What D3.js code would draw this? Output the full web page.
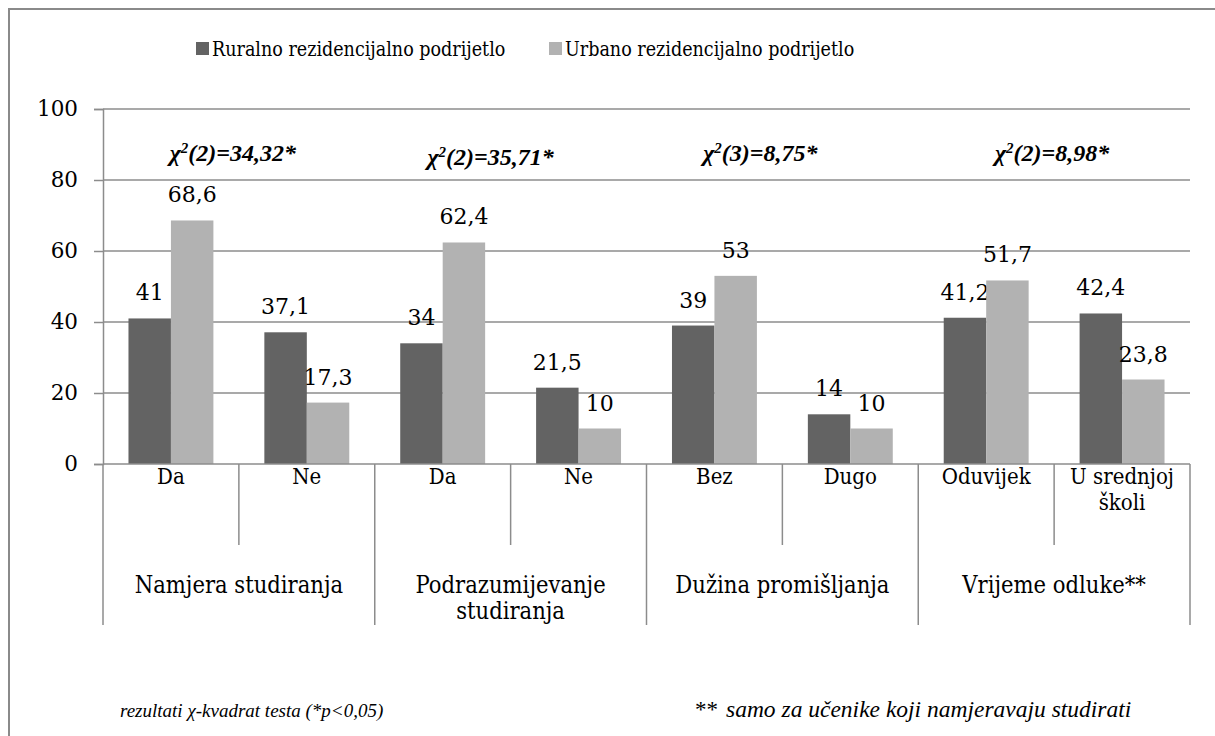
<!DOCTYPE html>
<html>
<head>
<meta charset="utf-8">
<script src="https://cdn.jsdelivr.net/npm/d3@7"></script>
<style>
  body { margin: 0; background: #fff; }
  svg { display: block; }
</style>
</head>
<body>
<div id="visualization"></div>
<script>
// Data
const subLabels = ["Da", "Ne", "Da", "Ne", "Bez", "Dugo", "Oduvijek", "U srednjoj školi"];
const groupLabels = ["Namjera studiranja", "Podrazumijevanje studiranja", "Dužina promišljanja", "Vrijeme odluke**"];
const ruralValues = [41, 37.1, 34, 21.5, 39, 14, 41.2, 42.4];
const urbanValues = [68.6, 17.3, 62.4, 10, 53, 10, 51.7, 23.8];
const seriesNames = ["Ruralno rezidencijalno podrijetlo", "Urbano rezidencijalno podrijetlo"];
const chiDf = ["2", "2", "3", "2"];
const chiValues = ["34,32*", "35,71*", "8,75*", "8,98*"];
const yTicks = [0, 20, 40, 60, 80, 100];

const colors = ["#636363", "#b2b2b2"];
const condFont = "'DejaVu Serif Condensed', 'DejaVu Serif', serif";
const numFont = "'DejaVu Serif', serif";
const italicFont = "'Liberation Serif', 'Times New Roman', serif";

const width = 1215, height = 736;
const margin = { left: 103, right: 25, top: 109, bottom: 272 };
const plotW = width - margin.left - margin.right;
const plotH = height - margin.top - margin.bottom;

const svg = d3.select("#visualization")
    .append("svg")
    .attr("width", width)
    .attr("height", height);

svg.append("rect").attr("width", width).attr("height", height).attr("fill", "#fff");

// frame (only top and left visible in the crop)
svg.append("path")
    .attr("d", `M9,${height} V9 H${width}`)
    .attr("fill", "none")
    .attr("stroke", "#8a8a8a")
    .attr("stroke-width", 2);

const idx = d3.range(subLabels.length);
const x = d3.scaleBand().domain(idx).range([margin.left, margin.left + plotW]).padding(0);
const xInner = d3.scaleBand().domain([0, 1]).range([0, x.bandwidth()]).paddingInner(0).paddingOuter(0.6);
const y = d3.scaleLinear().domain([0, 100]).range([margin.top + plotH, margin.top]);

// gridlines
svg.append("g")
    .selectAll("line")
    .data(yTicks.filter(d => d > 0))
    .enter()
    .append("line")
    .attr("x1", margin.left)
    .attr("x2", margin.left + plotW)
    .attr("y1", d => y(d))
    .attr("y2", d => y(d))
    .attr("stroke", "#8c8c8c")
    .attr("stroke-width", 1.5);

// y axis
const yAxis = svg.append("g")
    .attr("transform", `translate(${margin.left},0)`)
    .call(d3.axisLeft(y).tickValues(yTicks).tickSize(9).tickPadding(16));
yAxis.select(".domain").attr("stroke", "#8c8c8c").attr("stroke-width", 1.5);
yAxis.selectAll(".tick line").attr("stroke", "#8c8c8c").attr("stroke-width", 1.5);
yAxis.selectAll(".tick text")
    .attr("font-family", numFont)
    .attr("font-size", 21.5)
    .attr("fill", "#000");

// bars
const series = [ruralValues, urbanValues];
series.forEach((vals, s) => {
    svg.append("g")
        .selectAll("rect")
        .data(vals)
        .enter()
        .append("rect")
        .attr("x", (d, i) => x(i) + xInner(s))
        .attr("y", d => y(d))
        .attr("width", xInner.bandwidth())
        .attr("height", d => y(0) - y(d))
        .attr("fill", colors[s]);

    svg.append("g")
        .selectAll("text")
        .data(vals)
        .enter()
        .append("text")
        .attr("x", (d, i) => x(i) + xInner(s) + xInner.bandwidth() / 2)
        .attr("y", d => y(d) - 18)
        .attr("text-anchor", "middle")
        .attr("font-family", numFont)
        .attr("font-size", 22)
        .attr("fill", "#000")
        .text(d => String(d).replace(".", ","));
});

// x axis line
const y0 = y(0);
svg.append("line")
    .attr("x1", margin.left).attr("x2", margin.left + plotW)
    .attr("y1", y0).attr("y2", y0)
    .attr("stroke", "#8c8c8c").attr("stroke-width", 1.5);

// separators
const boundaries = d3.range(subLabels.length + 1);
svg.append("g")
    .selectAll("line")
    .data(boundaries)
    .enter()
    .append("line")
    .attr("x1", d => d === subLabels.length ? margin.left + plotW : x(d))
    .attr("x2", d => d === subLabels.length ? margin.left + plotW : x(d))
    .attr("y1", y0)
    .attr("y2", d => d % 2 === 0 ? 625 : 545)
    .attr("stroke", "#8c8c8c")
    .attr("stroke-width", 1.5);

// wrap helper
function wrapText(sel, maxW, lineH) {
    sel.each(function() {
        const t = d3.select(this);
        const words = t.text().split(" ");
        const xPos = t.attr("x");
        t.text(null);
        let line = [];
        let tspan = t.append("tspan").attr("x", xPos).attr("dy", 0);
        words.forEach(w => {
            line.push(w);
            tspan.text(line.join(" "));
            if (tspan.node().getComputedTextLength() > maxW && line.length > 1) {
                line.pop();
                tspan.text(line.join(" "));
                line = [w];
                tspan = t.append("tspan").attr("x", xPos).attr("dy", lineH).text(w);
            }
        });
    });
}

svg.append("g")
    .selectAll("text")
    .data(subLabels)
    .enter()
    .append("text")
    .attr("x", (d, i) => x(i) + x.bandwidth() / 2)
    .attr("y", 484)
    .attr("text-anchor", "middle")
    .attr("font-family", condFont)
    .attr("font-size", 22)
    .attr("fill", "#000")
    .text(d => d)
    .call(wrapText, x.bandwidth() - 8, 26);

svg.append("g")
    .selectAll("text")
    .data(groupLabels)
    .enter()
    .append("text")
    .attr("x", (d, i) => x(i * 2) + x.bandwidth())
    .attr("y", 593)
    .attr("text-anchor", "middle")
    .attr("font-family", condFont)
    .attr("font-size", 23.5)
    .attr("fill", "#000")
    .text(d => d)
    .call(wrapText, x.bandwidth() * 2 - 24, 26);

// chi-square annotations
const chiNudge = [-6, -20, -22, -2];
const chiDrop = [0, 4, 0, 0];
const chi = svg.append("g")
    .selectAll("text")
    .data(chiValues)
    .enter()
    .append("text")
    .attr("x", (d, i) => x(i * 2) + x.bandwidth() + chiNudge[i])
    .attr("y", (d, i) => 161 + chiDrop[i])
    .attr("text-anchor", "middle")
    .attr("font-family", italicFont)
    .attr("font-size", 24)
    .attr("font-weight", "bold")
    .attr("font-style", "italic")
    .attr("fill", "#000");
chi.append("tspan").text("χ");
chi.append("tspan").attr("font-size", 15).attr("dy", -8).text("2");
chi.append("tspan").attr("dy", 8).text((d, i) => `(${chiDf[i]})=${d}`);

// legend
const legend = svg.append("g");
const legendX = [196, 549];
seriesNames.forEach((name, s) => {
    legend.append("rect")
        .attr("x", legendX[s]).attr("y", 42)
        .attr("width", 13).attr("height", 13)
        .attr("fill", colors[s]);
    legend.append("text")
        .attr("x", legendX[s] + 16).attr("y", 56)
        .attr("font-family", condFont)
        .attr("font-size", 19.5)
        .attr("fill", "#000")
        .text(name);
});

// footnotes
svg.append("text")
    .attr("x", 120).attr("y", 717)
    .attr("font-family", italicFont)
    .attr("font-style", "italic")
    .attr("font-size", 19)
    .attr("fill", "#000")
    .text("rezultati χ-kvadrat testa (*p<0,05)");

const fn2 = svg.append("text")
    .attr("x", 695).attr("y", 717)
    .attr("font-family", italicFont)
    .attr("font-size", 23.5)
    .attr("fill", "#000");
fn2.append("tspan").attr("font-size", 23).text("**");
fn2.append("tspan").attr("dx", 8).attr("font-style", "italic").text("samo za učenike koji namjeravaju studirati");
</script>
</body>
</html>
